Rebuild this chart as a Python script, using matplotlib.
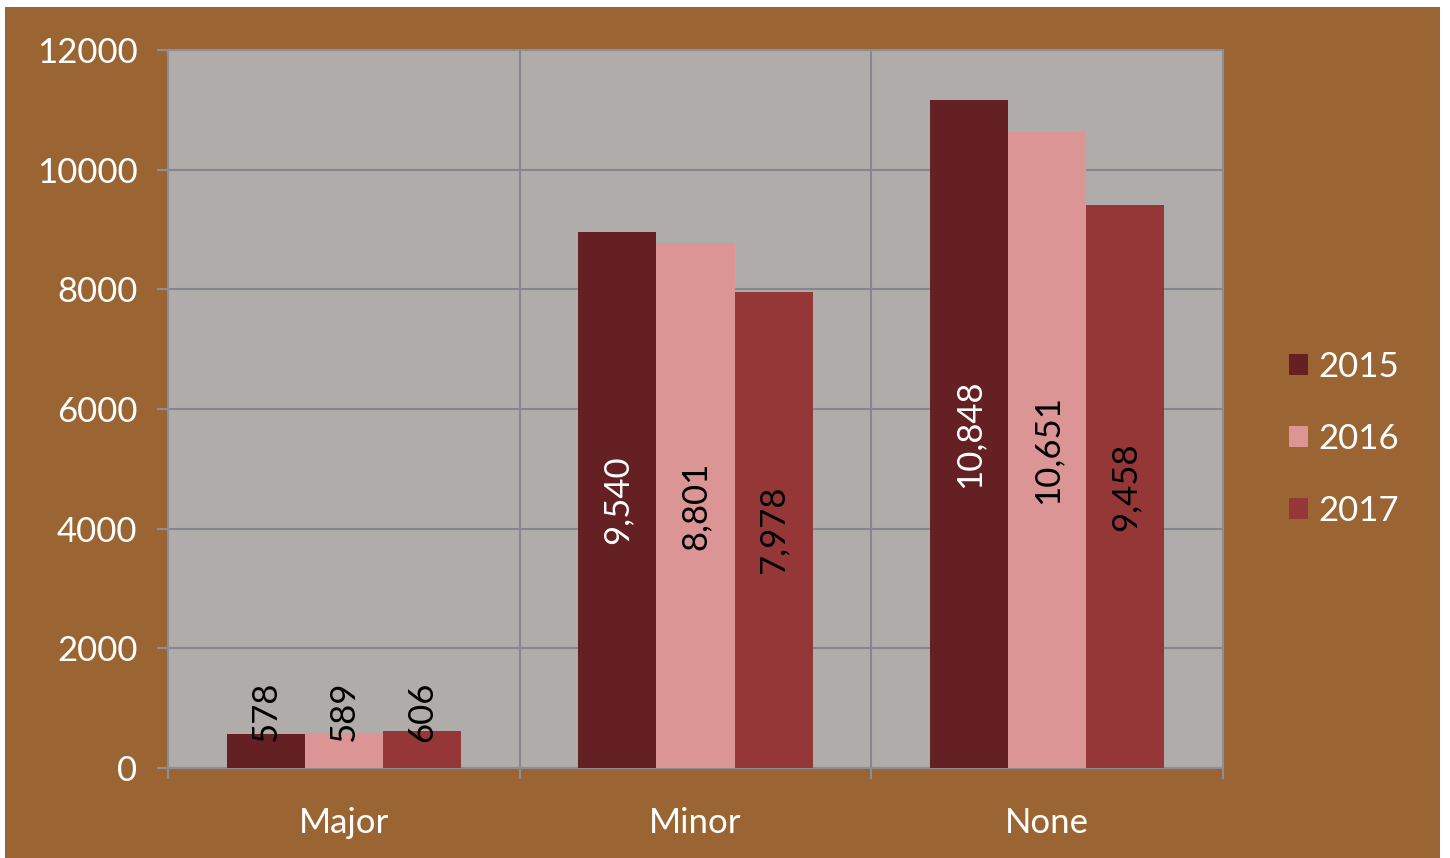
import matplotlib
matplotlib.use("Agg")
import matplotlib.pyplot as plt
import numpy as np
from matplotlib.patches import Rectangle

plt.rcParams['font.family'] = ['Lato', 'DejaVu Sans']

categories = ['Major', 'Minor', 'None']
years = ['2015', '2016', '2017']
# bar heights as drawn in the picture
heights_2015 = [575, 8960, 11165]
heights_2016 = [590, 8775, 10630]
heights_2017 = [615, 7960, 9410]
# data labels as printed on the bars
labels_2015 = ['578', '9,540', '10,848']
labels_2016 = ['589', '8,801', '10,651']
labels_2017 = ['606', '7,978', '9,458']
y_ticks = [0, 2000, 4000, 6000, 8000, 10000, 12000]

colors = ['#652023', '#DB9594', '#953637']
text_colors = ['white', 'black', 'black']
brown = '#9A6533'

fig = plt.figure(figsize=(14.5, 8.58), dpi=100, facecolor='white')
fig.patches.append(Rectangle((5 / 1450, 0), 1435 / 1450, 851 / 858,
                             transform=fig.transFigure, facecolor=brown,
                             edgecolor='none', zorder=-10))
ax = fig.add_axes([168 / 1450, 1 - 768 / 858, 1055 / 1450, 718 / 858])
ax.set_facecolor('#B0ACA9')

x = np.arange(len(categories))
w = 0.222
series = [heights_2015, heights_2016, heights_2017]
labels = [labels_2015, labels_2016, labels_2017]
for i, (h, lab) in enumerate(zip(series, labels)):
    xs = x + (i - 1) * w
    ax.bar(xs, h, width=w, color=colors[i], label=years[i], zorder=3)
    for xi, hi, t in zip(xs, h, lab):
        if hi / 2 > 940:
            ax.text(xi, hi / 2, t, rotation=90, ha='center', va='center',
                    fontsize=25, color=text_colors[i], zorder=4)
        else:
            ax.text(xi, 940, t, rotation=90, ha='center', va='center',
                    fontsize=25, color='black', zorder=4)

ax.set_xlim(-0.5, 2.5)
ax.set_ylim(0, 12000)
ax.set_yticks(y_ticks)
ax.set_yticklabels([str(v) for v in y_ticks], fontsize=25, color='white')
ax.set_xticks(x)
ax.set_xticklabels(categories, fontsize=25, color='white')
ax.set_xticks([-0.5, 0.5, 1.5, 2.5], minor=True)
ax.tick_params(axis='x', which='major', length=0, pad=28)
ax.tick_params(axis='x', which='minor', length=8, color='#8E8E96', width=1.5)
ax.tick_params(axis='y', length=8, color='#8E8E96', width=1.5, pad=14)

ax.grid(axis='y', color='#86868E', linewidth=1.5, zorder=1)
for xv in [0.5, 1.5]:
    ax.axvline(xv, color='#86868E', linewidth=1.5, zorder=1)
for s in ax.spines.values():
    s.set_color('#8E8E96')
    s.set_linewidth(1.5)

ax.legend(loc='center left', bbox_to_anchor=(1.046, 0.458), frameon=False,
          fontsize=25, labelcolor='white', handlelength=0.55, handleheight=0.55,
          handletextpad=0.3, labelspacing=1.15, borderpad=0)

fig.savefig('out.png', dpi=100, facecolor=fig.get_facecolor())
